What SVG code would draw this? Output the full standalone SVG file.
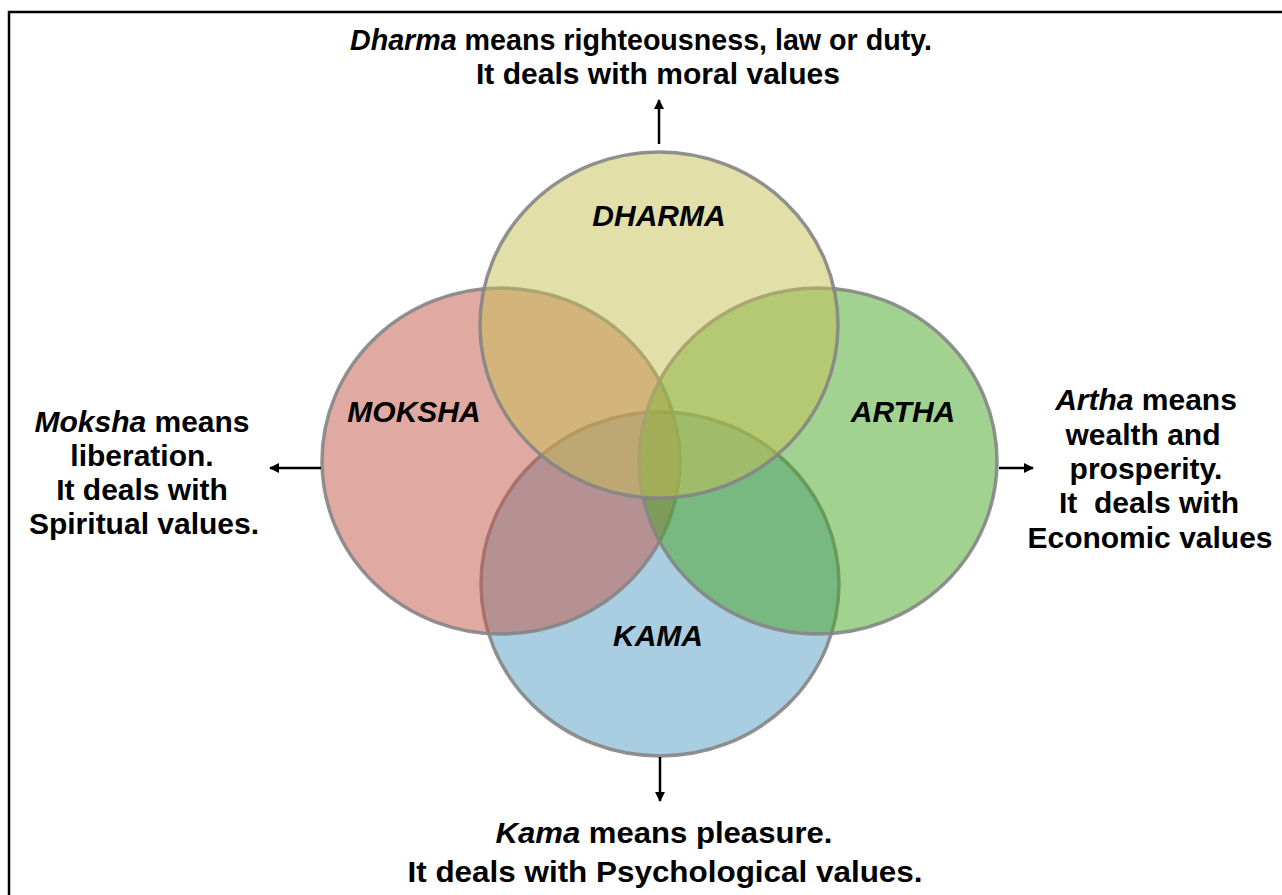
<svg xmlns="http://www.w3.org/2000/svg" width="1282" height="895" viewBox="0 0 1282 895">
  <defs>
    <marker id="arr" viewBox="0 0 10 10" refX="9" refY="5" markerWidth="4" markerHeight="4" orient="auto" markerUnits="strokeWidth">
      <path d="M0,0 L10,5 L0,10 z" fill="#000"/>
    </marker>
  </defs>
  <style>
    .c { fill-opacity: 0.5; stroke: #858585; stroke-opacity: 0.9; stroke-width: 3.5; }
    .lbl { font-family: "Liberation Sans", Arial, sans-serif; font-weight: bold; font-style: italic; font-size: 30px; fill: #000; text-anchor: middle; }
    .desc { font-family: "Liberation Sans", Arial, sans-serif; font-weight: bold; font-size: 30px; fill: #000; text-anchor: middle; }
    .it { font-style: italic; }
    .conn { stroke: #000; stroke-width: 2.5; fill: none; marker-end: url(#arr); }
  </style>
  <rect width="1282" height="895" fill="#fff"/>
  <path d="M9,895 V12 H1282" fill="none" stroke="#000" stroke-width="2.5"/>

  <g id="kama">
    <ellipse class="c" cx="660" cy="584" rx="179" ry="172" fill="#539bc3"/>
  </g>
  <g id="moksha">
    <ellipse class="c" cx="501" cy="461" rx="179" ry="173" fill="#c15547"/>
  </g>
  <g id="artha">
    <ellipse class="c" cx="818" cy="461" rx="179" ry="173" fill="#45a51f"/>
  </g>
  <g id="dharma">
    <ellipse class="c" cx="659" cy="325" rx="179" ry="173" fill="#c5bf53"/>
  </g>

  <g id="labels">
    <text class="lbl" x="659" y="226">DHARMA</text>
    <text class="lbl" x="414" y="422">MOKSHA</text>
    <text class="lbl" x="903" y="422">ARTHA</text>
    <text class="lbl" x="658" y="646">KAMA</text>
  </g>

  <g id="connectors">
    <line class="conn" x1="659" y1="144" x2="659" y2="100"/>
    <line class="conn" x1="321" y1="468" x2="270" y2="468"/>
    <line class="conn" x1="999" y1="468" x2="1033" y2="468"/>
    <line class="conn" x1="660" y1="757" x2="660" y2="801"/>
  </g>

  <g id="dharma-desc">
    <text class="desc" x="641" y="50" textLength="582" lengthAdjust="spacingAndGlyphs"><tspan class="it">Dharma</tspan> means righteousness, law or duty.</text>
    <text class="desc" x="658" y="84" textLength="364" lengthAdjust="spacingAndGlyphs">It deals with moral values</text>
  </g>
  <g id="moksha-desc">
    <text class="desc" x="142" y="432"><tspan class="it">Moksha</tspan> means</text>
    <text class="desc" x="142" y="466">liberation.</text>
    <text class="desc" x="142" y="500">It deals with</text>
    <text class="desc" x="144" y="534">Spiritual values.</text>
  </g>
  <g id="artha-desc">
    <text class="desc" x="1146" y="410"><tspan class="it">Artha</tspan> means</text>
    <text class="desc" x="1143" y="445">wealth and</text>
    <text class="desc" x="1146" y="479">prosperity.</text>
    <text class="desc" x="1149" y="513">It&#160; deals with</text>
    <text class="desc" x="1150" y="548">Economic values</text>
  </g>
  <g id="kama-desc">
    <text class="desc" x="664" y="843" textLength="337" lengthAdjust="spacingAndGlyphs"><tspan class="it">Kama</tspan> means pleasure.</text>
    <text class="desc" x="665" y="882" textLength="515" lengthAdjust="spacingAndGlyphs">It deals with Psychological values.</text>
  </g>
</svg>
